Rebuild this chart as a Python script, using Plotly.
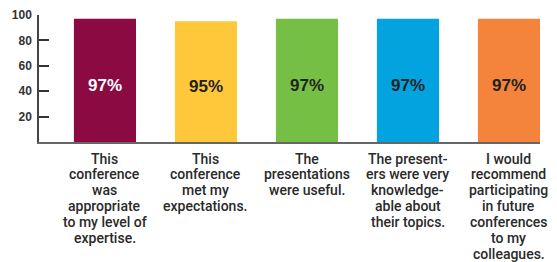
import plotly.graph_objects as go

categories = [
    "This<br>conference<br>was<br>appropriate<br>to my level of<br>expertise.",
    "This<br>conference<br>met my<br>expectations.",
    "The<br>presentations<br>were useful.",
    "The present-<br>ers were very<br>knowledge-<br>able about<br>their topics.",
    "I would<br>recommend<br>participating<br>in future<br>conferences<br>to my<br>colleagues.",
]
values = [97, 95, 97, 97, 97]
bar_colors = ["#8A0A41", "#FFC73A", "#76BF45", "#03A3E0", "#F4843C"]
label_colors = ["#FFFFFF", "#222222", "#222222", "#222222", "#222222"]
tick_vals = [0, 20, 40, 60, 80, 100]
tick_text = ["", "20", "40", "60", "80", "100"]

x = list(range(len(categories)))

fig = go.Figure()
fig.add_trace(go.Bar(
    x=x, y=values, marker=dict(color=bar_colors, line=dict(width=0)),
    width=0.615, hoverinfo="skip",
))

annotations = []
for i, (v, c) in enumerate(zip(values, label_colors)):
    annotations.append(dict(
        x=i, y=v * 0.46, xref="x", yref="y", text=f"{v}%", showarrow=False,
        font=dict(family="Liberation Sans, Arial, sans-serif", size=17, color=c, weight="bold"),
        xanchor="center", yanchor="middle",
    ))
    for j, line in enumerate(categories[i].split("<br>")):
        annotations.append(dict(
            x=i, y=0, xref="x", yref="paper", text=line, showarrow=False,
            font=dict(family="Roboto, Liberation Sans, Arial, sans-serif", size=14,
                      color="#2a2a2a", weight=500),
            xanchor="center", yanchor="middle", yshift=-(16.5 + 15.9 * j),
        ))

fig.update_layout(
    width=557, height=262,
    margin=dict(l=39, r=17, t=8, b=120.3, pad=0),
    paper_bgcolor="white", plot_bgcolor="white",
    showlegend=False, annotations=annotations,
    xaxis=dict(range=[-0.653, 4.307], showticklabels=False, ticks="",
               showgrid=False, zeroline=False, showline=True,
               linecolor="#666666", linewidth=2, fixedrange=True),
    yaxis=dict(range=[0, 100], tickvals=tick_vals, ticktext=tick_text,
               ticks="inside", ticklen=10, tickwidth=1.5, tickcolor="#333333",
               showgrid=False, zeroline=False, showline=True,
               linecolor="#444444", linewidth=1.5,
               tickfont=dict(family="Liberation Sans, Arial, sans-serif", size=12, color="#333333", weight="bold"),
               ticklabelstandoff=3, fixedrange=True),
)

fig.write_html("out.html", config={"displayModeBar": False},
               post_script="document.body.style.margin='0';document.body.style.padding='0';")
